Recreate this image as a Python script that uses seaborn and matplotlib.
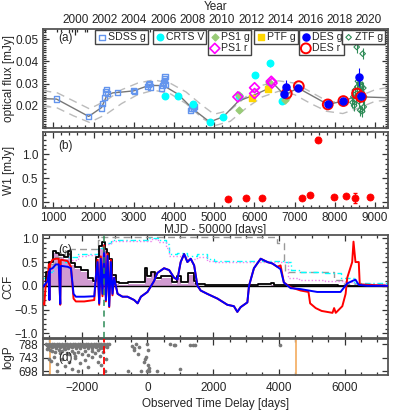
import numpy as np
import pandas as pd
import matplotlib
matplotlib.use("Agg")
import matplotlib.pyplot as plt
import seaborn as sns
from matplotlib.ticker import MultipleLocator

sns.set_style("ticks")
plt.rcParams["font.family"] = ["Liberation Sans", "DejaVu Sans"]
plt.rcParams["font.size"] = 8.5

####################### data : panel (a) optical #########################
model_mjd = [744, 1080, 1880, 2200, 2330, 2480, 2620, 3000, 3370, 3740, 4100, 4480, 4890,
             5230, 5610, 5940, 6335, 6420, 6750, 7085, 7825, 8213, 8570, 8650, 9323]
model_flux = [0.0232, 0.0230, 0.0152, 0.0192, 0.0246, 0.0258, 0.0260, 0.0267, 0.0291, 0.0291,
              0.0252, 0.0184, 0.0127, 0.0151, 0.0222, 0.0244, 0.0276, 0.0310, 0.0248, 0.0280,
              0.0206, 0.0221, 0.0246, 0.0240, 0.0236]

env_mjd = [744, 1100, 1500, 1900, 2300, 2700, 3100, 3500, 3900, 4300, 4700, 5000,
           5400, 5800, 6200, 6600, 7000, 7400, 7800, 8200, 8600, 9000, 9323]
env_hi = [0.0268, 0.0258, 0.0222, 0.0186, 0.0222, 0.0272, 0.0302, 0.0316, 0.0302, 0.0262,
          0.0202, 0.0162, 0.0180, 0.0242, 0.0292, 0.0312, 0.0302, 0.0262, 0.0222, 0.0212,
          0.0242, 0.0272, 0.0282]
env_lo = [0.0200, 0.0190, 0.0155, 0.0125, 0.0160, 0.0210, 0.0250, 0.0270, 0.0255, 0.0210,
          0.0145, 0.0110, 0.0130, 0.0190, 0.0240, 0.0265, 0.0250, 0.0210, 0.0175, 0.0165,
          0.0190, 0.0220, 0.0225]

sdss_mjd = [1080, 1880, 2200, 2230, 2280, 2300, 2330, 2350, 2600, 2990, 3010, 3350, 3370,
            3390, 3410, 3700, 3720, 3740, 3760, 3770, 3780, 3790, 4420, 4440, 4460, 4480, 4500]
sdss_flux = [0.0230, 0.0152, 0.0190, 0.0210, 0.0236, 0.0262, 0.0272, 0.0256, 0.0258, 0.0270,
             0.0265, 0.0288, 0.0296, 0.0300, 0.0284, 0.0280, 0.0292, 0.0302, 0.0312, 0.0322,
             0.0330, 0.0295, 0.0180, 0.0190, 0.0200, 0.0186, 0.0195]

crts_mjd = [3770, 4100, 4475, 4890, 5220, 5615, 6004, 6400, 6690]
crts_flux = [0.0243, 0.0246, 0.0209, 0.0128, 0.0151, 0.0246, 0.0336, 0.0390, 0.0221]
crts_err = [0.0010, 0.0012, 0.0012, 0.0008, 0.0008, 0.0010, 0.0012, 0.0015, 0.0012]

ps1g_mjd = [5615, 5630, 6355, 6370, 6760, 6780]
ps1g_flux = [0.0180, 0.0250, 0.0306, 0.0300, 0.0228, 0.0235]

ps1r_mjd = [5590, 6005, 6005, 6420, 6440]
ps1r_flux = [0.0240, 0.0281, 0.0255, 0.0310, 0.0302]

ptf_mjd = [5938, 6335]
ptf_flux = [0.0236, 0.0276]

desg_mjd = [6725, 6775, 7085, 7825, 8213, 8590, 8652]
desg_flux = [0.0255, 0.0285, 0.0278, 0.0206, 0.0221, 0.0330, 0.0246]
desg_err = [0.0010, 0.0030, 0.0010, 0.0005, 0.0005, 0.0040, 0.0010]

desr_mjd = [6805, 7105, 7825, 8213, 8553, 8650]
desr_flux = [0.0255, 0.0288, 0.0206, 0.0221, 0.0255, 0.0240]

ztf_mjd = [8440, 8460, 8480, 8500, 8520, 8545, 8560, 8575, 8590, 8600, 8615, 8630, 8650,
           8665, 8680, 8693, 8700, 8710, 8720, 8730]
ztf_flux = [0.0215, 0.0240, 0.0200, 0.0270, 0.0230, 0.0464, 0.0285, 0.0310, 0.0250, 0.0220,
            0.0300, 0.0180, 0.0260, 0.0285, 0.0175, 0.0434, 0.0230, 0.0280, 0.0195, 0.0240]
ztf_err = [0.0025] * len(ztf_mjd)

year_ticks = [2000, 2002, 2004, 2006, 2008, 2010, 2012, 2014, 2016, 2018, 2020]

####################### data : panel (b) W1 #########################
w1_mjd = [5335, 5790, 6180, 7190, 7390, 7580, 7970, 8280, 8510, 8880]
w1_flux = [0.07, 0.08, 0.08, 0.09, 0.15, 1.30, 0.11, 0.12, 0.09, 0.10]
w1_err = [0.02, 0.02, 0.02, 0.02, 0.03, 0.05, 0.02, 0.02, 0.10, 0.03]

####################### data : panel (c) CCF #########################
blue_lag = [-3180, -3040, -3000, -2985, -2970, -2890, -2790, -2700, -2655, -2640, -2630,
            -2430, -2330, -2250, -2180, -1925, -1620, -1570, -1520, -1470, -1420, -1370,
            -1320, -1265, -1215, -1165, -1115, -1065, -1015, -910, -760, -610, -405, -300,
            -200, 0, 200, 300, 505, 660, 810, 910, 1010, 1115, 1215, 1315, 1420, 1520, 1620,
            1820, 2130, 2430, 2630, 2735, 2835, 3040, 3090, 3240, 3445, 3650, 3800, 3950,
            4050, 4150, 4355, 4660, 5165, 5670, 5875, 6080, 6230, 6330, 6430, 6685, 7320]
blue_ccf = [-0.02, 0.10, 0.30, -0.30, 0.35, 0.37, 0.45, 0.45, -0.38, 0.40, 0.42,
            0.40, 0.37, -0.17, -0.23, -0.23, -0.22, 0.20, 0.50, -0.37, 0.57, -0.17,
            0.77, -0.30, 0.63, -0.43, 0.50, -0.17, 0.17, -0.17, -0.23, -0.23, -0.30, -0.37,
            -0.23, -0.13, 0.10, 0.27, 0.37, 0.33, 0.17, 0.13, 0.50, 0.67, 0.50, 0.57, 0.43,
            0.00, -0.10, -0.17, -0.27, -0.40, -0.43, -0.55, -0.45, -0.35, 0.00, 0.37, 0.57,
            0.50, 0.47, 0.40, 0.35, 0.07, -0.05, -0.07, -0.13, -0.13, -0.13, 0.05, 0.10, 0.13,
            0.02, 0.00, 0.00]
red_left_lag = [-3180, -3140, -3100, -3040, -3000, -2985, -2970, -2890, -2790, -2700,
                -2655, -2640, -2630, -2430, -2330, -2250, -2180, -1925, -1620, -1570, -1520,
                -1470, -1420, -1370, -1320, -1265, -1215, -1165, -1115, -1065, -1015]
red_left_ccf = [-0.37, -0.40, 0.00, 0.15, 0.45, -0.30, 0.45, 0.55, 0.57, 0.57,
                -0.40, 0.52, 0.55, 0.52, 0.40, -0.27, -0.33, -0.33, -0.30, 0.20, 0.55,
                -0.40, 0.62, -0.22, 0.85, -0.33, 0.68, -0.45, 0.55, -0.20, 0.17]
red_right_lag = [4050, 4150, 4355, 4660, 4900, 4950, 5120, 5300, 5630, 5680, 5730, 5930,
                 6030, 6080, 6230, 6270, 6330, 6430, 6460, 7320]
red_right_ccf = [0.43, 0.07, -0.03, -0.10, -0.13, -0.37, -0.47, -0.53, -0.57, -0.47, -0.57,
                 -0.43, -0.17, 0.17, 0.50, 0.93, 0.50, 0.50, 0.03, 0.00]

black_lag = [-3180, -3140, -3040, -2940, -2840, -2735, -2630, -2480, -2380, -2280, -2130,
             -1925, -1720, -1620, -1520, -1420, -1320, -1265, -1215, -1115, -1015, -910,
             -810, -400, -100, -50, 50, 150, 300, 500, 700, 810, 960, 1110, 1370, 1450, 1520,
             2000, 3000, 3700, 3800, 3900, 4300, 7320]
black_ccf = [0.00, 0.00, 0.30, 0.50, 0.73, 0.70, 0.65, 0.60, 0.73, 0.47, 0.40, 0.33, 0.17,
             0.10, 0.60, 0.83, 0.93, 0.77, 0.70, 0.57, 0.23, 0.07, 0.05, 0.07, 0.07, 0.37,
             0.20, 0.30, 0.17, 0.20, 0.20, 0.07, 0.20, 0.07, 0.27, 0.10, 0.03, 0.02, 0.01,
             0.03, 0.05, 0.02, 0.01, 0.00]
gray_lag = [-3180, -3000, -2800, -2500, -1500, -1400, 3950, 4150, 4170, 4355, 5670,
            5980, 7320]
gray_ccf = [0.37, 0.45, 0.60, 0.77, 0.97, 1.03, 0.90, 0.50, 0.30, 0.30, 0.13, 0.03, 0.03]
cyan_lag = [-3180, -3040, -2890, -2685, -2430, -2130, -1820, -1520, -1320, -1115, 30,
            330, 560, 660, 910, 1215, 1520, 1820, 2030, 4150, 4355, 4600, 5400, 5880,
            6280, 7320]
cyan_ccf = [0.17, 0.30, 0.40, 0.50, 0.60, 0.67, 0.68, 0.80, 0.90, 0.97, 1.00, 0.97,
            0.87, 0.67, 0.70, 0.63, 0.67, 0.57, 0.53, 0.50, 0.33, 0.30, 0.27, 0.17,
            0.05, 0.03]
mag_lag = [-3180, -3040, -2890, -2685, -2430, -2130, -1820, -1520, -1320, -1115, 100,
           330, 560, 660, 910, 1215, 1520, 1820, 2030, 4150, 4270, 4600, 5400, 6000,
           6300, 7320]
mag_ccf = [0.13, 0.25, 0.35, 0.45, 0.55, 0.62, 0.65, 0.76, 0.87, 0.95, 0.98, 0.93,
           0.80, 0.62, 0.63, 0.57, 0.60, 0.52, 0.50, 0.50, 0.17, 0.13, 0.10, 0.07,
           0.04, 0.03]

####################### data : panel (d) logP #########################
band_lag = [-3080, -3000, -2920, -2840, -2760, -2680, -2600, -2520, -2440, -2360, -2280,
            -2200, -2120, -2040, -1960, -1880, -1800, -1720, -1640, -1560, -1480, -1400,
            -1320, -1240, -1180,
            -3060, -2980, -2900, -2820, -2740, -2660, -2580, -2500, -2420, -2340, -2260,
            -2180, -2100, -2020, -1940, -1860, -1780, -1700, -1620, -1540, -1460, -1380,
            -1300, -1220,
            -3040, -2950, -2860, -2770, -2690, -2610, -2530, -2450, -2370, -2290, -2210,
            -2130, -2050, -1970, -1890, -1810, -1730, -1650, -1570, -1490, -1410, -1330,
            -1250,
            -3020, -2900, -2780, -2660, -2540, -2420, -2300, -2180, -2060, -1940, -1820,
            -1700, -1580, -1460, -1340, -1220]
band_logp = [790, 789, 790, 789, 790, 789, 790, 789, 790, 789, 790, 789, 790, 789, 790,
             789, 790, 789, 790, 789, 790, 789, 790, 789, 789,
             786, 785, 787, 785, 786, 785, 787, 785, 786, 785, 787, 785, 786, 785, 787,
             785, 786, 785, 787, 785, 786, 785, 787, 785,
             782, 781, 783, 781, 782, 781, 783, 781, 782, 781, 783, 781, 782, 781, 783,
             781, 782, 781, 783, 781, 782, 781, 782,
             777, 778, 776, 778, 777, 776, 778, 777, 776, 778, 777, 776, 778, 777, 776, 778]
scat_lag = [-3050, -2980, -2900, -2800, -2700, -2650, -2600, -2500, -2450, -2400, -2300,
            -2250, -2200, -2100, -2000, -1900, -1800, -1700, -1600, -1500, -1450, -1350,
            -3000, -2950, -2850, -2750, -2600, -2500, -2400, -2300, -2200, -2050, -1900,
            -1800, -1700, -1500, -1400, -1300, -1250, -2750, -2100,
            -480, -420, -350, -250, -10, 10, -80, -300, -120, 20, 40, 0, 60, -200, 300,
            700, 800, 850, 1000, 1300, 1400, 1450, 4030, -600, -400, -50]
scat_logp = [772, 768, 764, 762, 769, 758, 766, 771, 760, 754, 767,
             758, 750, 763, 756, 767, 752, 765, 758, 769, 748, 762,
             740, 732, 745, 722, 738, 715, 730, 705, 742, 725, 735,
             712, 745, 730, 720, 700, 738, 700, 698,
             783, 775, 788, 780, 789, 770, 740, 755, 730, 720, 708, 698, 700, 700, 698,
             790, 786, 787, 706, 787, 785, 786, 786, 700, 770, 745]

orange_lags = [-2970, 4530]
peak_lag = -1330

####################### layout #########################
fig = plt.figure(figsize=(3.99, 4.12), dpi=100)
W, H = 399.0, 412.0


def box(x0, y0, x1, y1):
    return [x0 / W, 1 - y1 / H, (x1 - x0) / W, (y1 - y0) / H]


ax_a = fig.add_axes(box(43, 29, 388, 128))
ax_b = fig.add_axes(box(43, 132, 388, 208))
ax_c = fig.add_axes(box(43, 235, 388, 338))
ax_d = fig.add_axes(box(43, 339, 388, 375))

spine_col = "#555555"
for ax in (ax_a, ax_b, ax_c, ax_d):
    for s in ax.spines.values():
        s.set_linewidth(1.3)
        s.set_color(spine_col)
        s.set_visible(True)
    ax.tick_params(direction="in", which="both", top=True, right=True, length=4,
                   width=0.9, color="#333333", labelsize=8.5)
    ax.tick_params(which="minor", length=2)

####################### (a) #########################
ax_a.plot(env_mjd, env_hi, ls=(0, (6, 4)), color="#bbbbbb", lw=1.0, zorder=1)
ax_a.plot(env_mjd, env_lo, ls=(0, (6, 4)), color="#bbbbbb", lw=1.0, zorder=1)
sns.lineplot(x=model_mjd, y=model_flux, ax=ax_a, color="#777777", lw=1.0, sort=False,
             estimator=None, zorder=2)

h_sdss = ax_a.scatter(sdss_mjd, sdss_flux, marker="s", s=14, facecolors="none",
                      edgecolors="cornflowerblue", linewidths=1.0, zorder=3, label="SDSS g")
ax_a.errorbar(crts_mjd, crts_flux, yerr=crts_err, fmt="none", ecolor="cyan", lw=0.8, zorder=3)
h_crts = ax_a.scatter(crts_mjd, crts_flux, marker="o", s=22, color="cyan", zorder=4,
                      label="CRTS V")
h_ps1g = ax_a.scatter(ps1g_mjd, ps1g_flux, marker="D", s=12, color="#99cc77", zorder=4,
                      label="PS1 g")
h_ps1r = ax_a.scatter(ps1r_mjd, ps1r_flux, marker="D", s=26, facecolors="none",
                      edgecolors="magenta", linewidths=1.2, zorder=5, label="PS1 r")
h_ptf = ax_a.scatter(ptf_mjd, ptf_flux, marker="s", s=22, color="gold", zorder=4,
                     label="PTF g")
ax_a.errorbar(ztf_mjd, ztf_flux, yerr=ztf_err, fmt="none", ecolor="seagreen", lw=0.8,
              zorder=3)
h_ztf = ax_a.scatter(ztf_mjd, ztf_flux, marker="D", s=8, facecolors="none",
                     edgecolors="seagreen", linewidths=0.8, zorder=4, label="ZTF g")
ax_a.errorbar(desg_mjd, desg_flux, yerr=desg_err, fmt="none", ecolor="blue", lw=0.8,
              zorder=5)
h_desr = ax_a.scatter(desr_mjd, desr_flux, marker="o", s=50, facecolors="none",
                      edgecolors="red", linewidths=1.4, zorder=5, label="DES r")
h_desg = ax_a.scatter(desg_mjd, desg_flux, marker="o", s=26, color="blue", zorder=6,
                      label="DES g")

ax_a.set_xlim(744, 9323)
ax_a.set_ylim(0.01, 0.0545)
ax_a.set_yticks([0.02, 0.03, 0.04, 0.05])
ax_a.yaxis.set_minor_locator(MultipleLocator(0.001))
ax_a.xaxis.set_major_locator(MultipleLocator(1000))
ax_a.xaxis.set_minor_locator(MultipleLocator(200))
ax_a.tick_params(axis="x", labelbottom=False, top=False)
ax_a.set_ylabel("optical flux [mJy]")
ax_a.text(0.045, 0.88, "(a)", transform=ax_a.transAxes, fontsize=8.5)

ax_top = ax_a.secondary_xaxis("top")
ax_top.set_xticks([1544 + (y - 2000) * 365.25 for y in year_ticks])
ax_top.set_xticklabels([str(y) for y in year_ticks])
ax_top.xaxis.set_minor_locator(MultipleLocator(365.25))
ax_top.tick_params(direction="in", which="both", length=4, width=0.9, pad=2, labelsize=8.5)
ax_top.tick_params(which="minor", length=2)
ax_top.set_xlabel("Year", labelpad=3)
ax_top.spines["top"].set_visible(False)

leg_kw = dict(fontsize=7.6, frameon=True, fancybox=False, edgecolor="#444444",
              handletextpad=0.1, borderpad=0.15, handlelength=1.0, borderaxespad=0,
              labelspacing=0.1, framealpha=1)
legs = [([h_sdss], 0.151), ([h_crts], 0.319), ([h_ps1g, h_ps1r], 0.478),
        ([h_ptf], 0.612), ([h_desg, h_desr], 0.742), ([h_ztf], 0.866)]
for hs, x0 in legs:
    lg = ax_a.legend(handles=hs, loc="upper left", bbox_to_anchor=(x0, 0.985), **leg_kw)
    lg.get_frame().set_linewidth(1.0)
    ax_a.add_artist(lg)

####################### (b) #########################
ax_b.errorbar(w1_mjd, w1_flux, yerr=w1_err, fmt="none", ecolor="red", lw=0.9, capsize=1.5)
sns.scatterplot(x=w1_mjd, y=w1_flux, ax=ax_b, color="red", s=26, edgecolor="red",
                linewidth=0.5, zorder=3)
ax_b.set_xlim(744, 9323)
ax_b.set_ylim(-0.12, 1.46)
ax_b.set_yticks([0.0, 0.5, 1.0])
ax_b.yaxis.set_minor_locator(MultipleLocator(0.1))
ax_b.xaxis.set_major_locator(MultipleLocator(1000))
ax_b.xaxis.set_minor_locator(MultipleLocator(200))
ax_b.set_xlabel("MJD - 50000 [days]", labelpad=0)
ax_b.set_ylabel("W1 [mJy]")
ax_b.tick_params(axis="x", pad=3)
ax_b.text(0.045, 0.78, "(b)", transform=ax_b.transAxes, fontsize=8.5)

####################### (c) #########################
red_lag = red_left_lag + [l for l in blue_lag if -1000 < l < 4000] + red_right_lag
red_ccf = red_left_ccf + [c for l, c in zip(blue_lag, blue_ccf) if -1000 < l < 4000] \
    + red_right_ccf

mag_fill = np.clip(np.array(black_ccf) - 0.04, 0, None)
ax_c.fill_between(black_lag, 0, mag_fill, step="mid", color="#c98ac9", alpha=0.85, lw=0,
                  zorder=1)
ax_c.plot(black_lag, black_ccf, drawstyle="steps-mid", color="black", lw=1.3, zorder=4)
ax_c.plot(gray_lag, gray_ccf, drawstyle="steps-post", color="#999999", lw=1.0,
          ls=(0, (5, 3)), zorder=2)
ax_c.plot(cyan_lag, cyan_ccf, drawstyle="steps-post", color="cyan", lw=1.0,
          ls=(0, (4, 2, 1, 2)), zorder=2)
ax_c.plot(mag_lag, mag_ccf, drawstyle="steps-post", color="violet", lw=1.0,
          ls=(0, (1, 1.5)), zorder=2)
sns.lineplot(x=red_lag, y=red_ccf, ax=ax_c, color="red", lw=1.4, sort=False,
             estimator=None, zorder=5)
sns.lineplot(x=blue_lag, y=blue_ccf, ax=ax_c, color="blue", lw=1.4, sort=False,
             estimator=None, zorder=6)
ax_c.axhline(0, color="black", lw=1.0, zorder=3)
ax_c.axvline(peak_lag, color="seagreen", lw=1.1, ls=(0, (4, 3)), zorder=7)
ax_c.set_xlim(-3180, 7320)
ax_c.set_ylim(-1.1, 1.07)
ax_c.set_yticks([-1.0, -0.5, 0.0, 0.5, 1.0])
ax_c.yaxis.set_minor_locator(MultipleLocator(0.1))
ax_c.xaxis.set_major_locator(MultipleLocator(2000))
ax_c.xaxis.set_minor_locator(MultipleLocator(500))
ax_c.tick_params(axis="x", labelbottom=False)
ax_c.set_ylabel("CCF")
ax_c.text(0.045, 0.83, "(c)", transform=ax_c.transAxes, fontsize=8.5, zorder=10)

####################### (d) #########################
sns.scatterplot(x=band_lag + scat_lag, y=band_logp + scat_logp, ax=ax_d, color="#777777",
                s=7, linewidth=0, zorder=3)
for lg_ in orange_lags:
    ax_d.axvline(lg_, color="#f5b26b", lw=1.3, zorder=2)
ax_d.axvline(peak_lag, color="red", lw=1.3, ls=(0, (4, 2)), zorder=4)
ax_d.set_xlim(-3180, 7320)
ax_d.set_ylim(685, 806)
ax_d.set_yticks([698, 743, 788])
ax_d.xaxis.set_major_locator(MultipleLocator(2000))
ax_d.xaxis.set_minor_locator(MultipleLocator(500))
ax_d.set_xlabel("Observed Time Delay [days]", labelpad=3)
ax_d.set_ylabel("logP")
ax_d.tick_params(axis="x", pad=5)
ax_d.text(0.045, 0.40, "(d)", transform=ax_d.transAxes, fontsize=8.5, zorder=10)

for ax in (ax_a, ax_b, ax_c, ax_d):
    ax.yaxis.set_label_coords(-0.082, 0.5)

fig.savefig("out.png", dpi=100)
